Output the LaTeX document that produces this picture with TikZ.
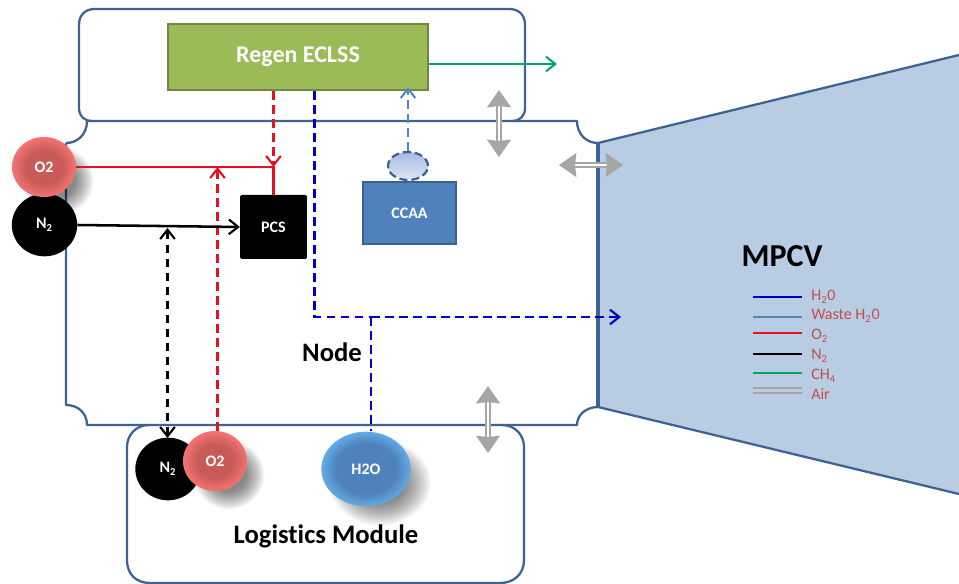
\documentclass[tikz,border=0pt]{standalone}
\usepackage{fontspec}
\setmainfont{Carlito}[Ligatures=CommonOff]
\usetikzlibrary{shapes.geometric,arrows.meta}
\definecolor{modline}{HTML}{3F6391}
\definecolor{mpcvfill}{HTML}{B8CCE4}
\definecolor{ccfill}{HTML}{4F81BD}
\definecolor{ccline}{HTML}{3A6290}
\definecolor{regenfill}{HTML}{9BBB59}
\definecolor{regenline}{HTML}{71893F}
\definecolor{h2oblue}{HTML}{0000C8}
\definecolor{wasteblue}{HTML}{5585BD}
\definecolor{oxred}{HTML}{E81020}
\definecolor{chgreen}{HTML}{00A95C}
\definecolor{airgray}{HTML}{A6A6A6}
\definecolor{legtext}{HTML}{C0504D}
\definecolor{redcore}{HTML}{C85A58}
\definecolor{redrim}{HTML}{F47472}
\definecolor{bluecore}{HTML}{4F81BD}
\definecolor{bluerim}{HTML}{62ABE6}
\pgfdeclareradialshading{ballred}{\pgfpoint{0bp}{0bp}}{color(0bp)=(redcore); color(14bp)=(redcore); color(25bp)=(redrim); color(50bp)=(redrim)}
\pgfdeclareradialshading{ballblue}{\pgfpoint{0bp}{0bp}}{color(0bp)=(bluecore); color(17bp)=(bluecore); color(25bp)=(bluerim); color(50bp)=(bluerim)}
\tikzset{
  module/.style={draw=modline,line width=1.7pt,line join=round},
  ball/.style={ellipse,inner sep=0pt,text=white,font=\bfseries\fontsize{12}{14}\selectfont},
  redball/.style={ball,shading=ballred},
  blackball/.style={ball,fill=black},
  blueball/.style={ball,shading=ballblue},
  pipe/.style={line width=1.9pt},
  dashpipe/.style={line width=1.9pt,dash pattern=on 6.5pt off 4pt},
  tip/.style={-{Straight Barb[length=7pt,width=11pt,line width=1.6pt]}},
  tips/.style={{Straight Barb[length=7pt,width=11pt,line width=1.6pt]}-{Straight Barb[length=7pt,width=11pt,line width=1.6pt]}},
  airflow/.style={draw=airgray,line width=1.3pt,double=white,double distance=1.8pt,
    {Stealth[length=13pt,width=18pt,inset=1pt,fill=airgray]}-{Stealth[length=13pt,width=18pt,inset=1pt,fill=airgray]}},
  legline/.style={line width=1.9pt},
  legtxt/.style={anchor=west,inner sep=0pt,text=legtext,font=\fontsize{12}{14}\selectfont},
  boxlabel/.style={font=\bfseries\fontsize{20}{24}\selectfont,inner sep=0pt},
}
\newcommand{\softshadow}[4]{%
  \foreach \k in {0,...,15}{
    \fill[black,opacity=0.035] (#1,#2) ellipse [x radius={#3*(1.18-0.04*\k)},y radius={#4*(1.18-0.04*\k)}];
  }}
\begin{document}
\begin{tikzpicture}[x=0.75pt,y=-0.75pt]
\useasboundingbox (0,0) rectangle (959,584);
\fill[white] (0,0) rectangle (959,584);
% modules
\draw[module] (92,121) .. controls (84,121) and (79,116) .. (79,108) -- (79,25)
  .. controls (79,15) and (85,9) .. (95,9) -- (509,9)
  .. controls (519,9) and (525,15) .. (525,25) -- (525,108)
  .. controls (525,116) and (520,121) .. (512,121);
\draw[module] (149,425) .. controls (136,425) and (127,435) .. (127,447) -- (127,560)
  .. controls (127,574) and (136,583) .. (150,583) -- (500,583)
  .. controls (514,583) and (524,574) .. (524,560) -- (524,447)
  .. controls (524,435) and (515,425) .. (502,425);
\fill[mpcvfill] (598,143) -- (959,55) -- (959,494) -- (598,407) -- cycle;
\draw[module] (598,143) -- (959,55) (959,494) -- (598,407);
\draw[module] (66,143) .. controls (78,143) and (87,134) .. (87,121) -- (577,121)
  .. controls (577,134) and (586,143) .. (598,143);
\draw[module] (66,143) -- (66,405) .. controls (78,405) and (87,413) .. (87,425) -- (577,425)
  .. controls (577,415) and (586,407) .. (598,407);
\draw[draw=modline,line width=3pt] (598,143) -- (598,407);
% shadows
\softshadow{58}{181}{30}{29}
\softshadow{229}{475}{30}{29}
\softshadow{380}{483}{43}{36}
% equipment
\node[draw=regenline,fill=regenfill,line width=1.5pt,minimum width=195pt,minimum height=49.5pt,inner sep=0pt,text=white,font=\bfseries\fontsize{18}{22}\selectfont] (regen) at (298,57) {Regen ECLSS};
\node[fill=black,rounded corners=1pt,minimum width=50pt,minimum height=48pt,inner sep=0pt,text=white,font=\bfseries\fontsize{12}{14}\selectfont] (pcs) at (273.5,227) {PCS};
\node[draw=ccline,fill=ccfill,line width=1.5pt,minimum width=70pt,minimum height=46pt,inner sep=0pt,text=white,font=\bfseries\fontsize{12}{14}\selectfont] (ccaa) at (409.5,213) {CCAA};
\node[ellipse,draw=modline,line width=1.7pt,dash pattern=on 6pt off 3pt,top color=mpcvfill!90!blue,bottom color=mpcvfill!45,minimum width=30pt,minimum height=21pt,inner sep=0pt] (vent) at (408,166) {};
% tanks
\node[blackball,minimum width=49pt,minimum height=47pt] (n2top) at (44.5,225) {N\textsubscript{2}};
\node[redball,minimum width=48pt,minimum height=45pt] (o2top) at (44,167) {O2};
\node[blackball,minimum width=49pt,minimum height=47pt] (n2low) at (168,469) {N\textsubscript{2}};
\node[redball,minimum width=48pt,minimum height=45pt] (o2low) at (215,461) {O2};
\node[blueball,minimum width=67pt,minimum height=56pt] (h2o) at (366,469) {H2O};
% junctions
\coordinate (redjoin) at (273.5,167);
\coordinate (redin) at (217.5,167);
\coordinate (blkin) at (167.5,228);
\coordinate (blktip) at (167.5,438);
\coordinate (bluebend) at (314.5,317);
\coordinate (bluejoin) at (371,317);
\coordinate (blueend) at (621,317);
\coordinate (greenend) at (557,64);
\coordinate (wasteend) at (408,87);
% connectors
\draw[pipe,chgreen,tip] (regen.east |- greenend) -- (greenend);
\draw[dashpipe,oxred,tip] (regen.south -| redjoin) -- (redjoin);
\draw[pipe,oxred] (o2top.east) -- (redjoin) -- (pcs.north);
\draw[dashpipe,oxred,tip] (o2low.north -| redin) -- (redin);
\draw[pipe,black,tip] (n2top.east) -- (pcs.west);
\draw[dashpipe,black,tips] (blkin) -- (blktip);
\draw[dashpipe,h2oblue] (regen.south -| bluebend) -- (bluebend) -- (bluejoin);
\draw[dashpipe,h2oblue,tip] (bluejoin) -- (blueend);
\draw[dashpipe,h2oblue] (bluejoin) -- (bluejoin |- h2o.north);
\draw[dashpipe,wasteblue,tip] (vent.north) -- (wasteend);
% air
\coordinate (a1) at (499,90); \coordinate (a2) at (499,157);
\coordinate (b1) at (559,165); \coordinate (b2) at (623,165);
\coordinate (c1) at (488,386); \coordinate (c2) at (488,453);
\draw[airflow] (a1) -- (a2);
\draw[airflow] (b1) -- (b2);
\draw[airflow] (c1) -- (c2);
% labels
\node[boxlabel] (nodelab) at (332,352) {Node};
\node[boxlabel] (logilab) at (326,536) {Logistics Module};
\node[font=\bfseries\fontsize{24}{28}\selectfont,inner sep=0pt] (mpcvlab) at (782,256) {MPCV};
% legend
\node[legtxt] (l1) at (811,297) {H\textsubscript{2}0};
\node[legtxt] (l2) at (811,316) {Waste H\textsubscript{2}0};
\node[legtxt] (l3) at (811,336) {O\textsubscript{2}};
\node[legtxt] (l4) at (811,356) {N\textsubscript{2}};
\node[legtxt] (l5) at (811,376) {CH\textsubscript{4}};
\node[legtxt] (l6) at (811,394) {Air};
\coordinate (s1) at (753,297);
\coordinate (s2) at (753,317);
\coordinate (s3) at (753,333);
\coordinate (s4) at (753,354);
\coordinate (s5) at (753,373);
\coordinate (s6) at (753,388);
\coordinate (s7) at (753,393);
\draw[legline,h2oblue] (s1) -- ++(49,0);
\draw[legline,wasteblue] (s2) -- ++(49,0);
\draw[legline,oxred] (s3) -- ++(49,0);
\draw[legline,black] (s4) -- ++(49,0);
\draw[legline,chgreen] (s5) -- ++(49,0);
\draw[legline,airgray] (s6) -- ++(49,0);
\draw[legline,airgray] (s7) -- ++(49,0);
\end{tikzpicture}
\end{document}
